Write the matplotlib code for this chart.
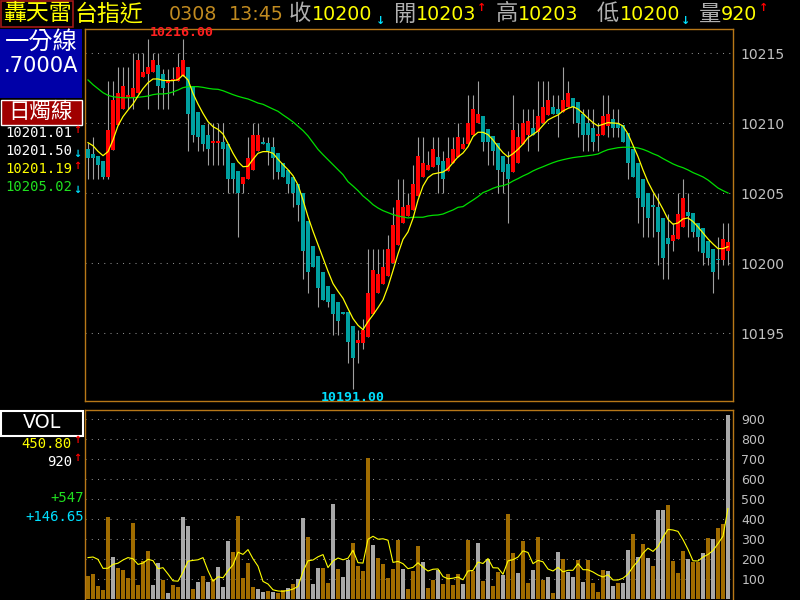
import numpy as np
import matplotlib.pyplot as plt
from matplotlib import font_manager
from matplotlib.patches import Rectangle

BASE = 10200  # the price lists below are points above this level

open_pts = [8.2, 7.8, 7.7, 7.3, 6.2, 8.1, 9.9, 11.0, 11.8, 11.9,
            12.2, 13.3, 13.5, 13.7, 14.2, 13.5, 12.9, 13.0, 13.0, 13.4,
            14.0, 12.7, 10.8, 9.9, 9.2, 8.6, 8.6, 8.7, 8.5, 7.2,
            6.6, 5.7, 6.0, 6.7, 8.0, 8.7, 8.6, 8.3, 7.9, 7.2,
            6.7, 6.2, 5.7, 5.0, 3.0, 1.2, 0.5, -0.6, -1.6, -2.2,
            -2.8, -3.5, -3.5, -4.5, -5.7, -5.7, -5.3, -3.6, -2.1, -1.5,
            -0.9, 0.0, 1.3, 2.9, 3.4, 3.8, 4.8, 6.2, 6.7, 6.9,
            7.6, 7.3, 6.6, 7.2, 7.6, 8.2, 8.5, 9.2, 10.0, 10.5,
            9.6, 9.1, 8.6, 7.7, 7.1, 6.5, 7.2, 8.5, 9.2, 9.7,
            9.4, 10.0, 10.6, 11.2, 11.0, 10.8, 11.2, 11.8, 11.5, 10.7,
            10.0, 9.7, 9.1, 9.2, 9.8, 10.3, 10.0, 9.9, 9.3, 8.2,
            7.2, 6.0, 5.0, 4.1, 4.0, 3.2, 1.8, 1.6, 1.7, 2.6,
            3.7, 3.6, 2.9, 2.5, 1.6, 1.0, 0.3, 0.2, 0.9]
high_pts = [8.6, 9.0, 7.7, 7.3, 13.0, 13.0, 14.0, 14.0, 14.0, 15.0,
            15.0, 15.0, 16.0, 15.0, 15.0, 13.9, 13.9, 14.0, 15.0, 16.0,
            14.0, 12.7, 10.8, 9.9, 10.0, 10.0, 10.0, 10.0, 8.5, 7.2,
            6.6, 6.2, 9.0, 10.0, 10.0, 9.0, 9.0, 9.0, 7.9, 7.2,
            6.7, 6.2, 5.7, 5.0, 3.0, 1.2, 0.5, -0.6, -1.6, -2.2,
            -2.8, -3.5, -3.5, -4.5, -4.8, -4.0, 1.0, 1.0, 1.0, 1.0,
            2.0, 4.0, 6.0, 6.0, 5.0, 7.0, 9.0, 9.0, 8.0, 9.0,
            9.0, 8.0, 9.0, 9.0, 10.0, 9.0, 12.0, 12.0, 13.0, 10.5,
            9.6, 9.1, 8.6, 7.7, 8.0, 12.0, 10.0, 11.0, 11.0, 11.0,
            13.0, 13.0, 13.0, 12.0, 12.0, 14.0, 13.0, 11.8, 11.5, 11.0,
            11.0, 11.0, 10.0, 12.0, 12.0, 11.0, 11.0, 9.9, 9.3, 8.2,
            7.2, 6.0, 5.0, 5.0, 5.0, 3.2, 3.5, 2.9, 5.0, 6.0,
            5.0, 3.6, 2.9, 2.5, 1.6, 1.0, 1.9, 2.9, 2.9]
low_pts = [6.0, 6.0, 6.0, 6.0, 6.0, 8.1, 9.9, 11.0, 11.0, 11.0,
           12.2, 13.3, 11.0, 13.7, 11.0, 11.0, 11.0, 12.0, 13.0, 13.4,
           8.0, 8.7, 8.0, 8.0, 7.0, 7.0, 7.0, 7.0, 5.0, 5.0,
           1.9, 5.0, 6.0, 6.7, 8.0, 8.5, 7.0, 6.0, 6.0, 6.2,
           5.0, 4.0, 3.0, -1.1, -2.1, -0.3, -3.1, -2.6, -3.1, -5.1,
           -5.1, -3.6, -7.1, -9.0, -7.1, -6.1, -5.3, -3.6, -2.1, -1.5,
           -0.9, 0.0, 1.3, 2.9, 3.4, 3.8, 4.8, 6.2, 6.7, 6.9,
           5.0, 5.0, 6.6, 7.2, 7.6, 8.2, 8.5, 9.2, 10.0, 8.0,
           7.0, 7.0, 5.0, 5.0, 2.9, 6.5, 7.2, 8.5, 8.0, 9.2,
           8.0, 10.0, 10.6, 10.7, 9.0, 10.8, 11.2, 10.0, 9.0, 8.0,
           8.0, 8.0, 8.0, 9.2, 9.0, 9.0, 9.0, 8.7, 6.0, 6.2,
           2.9, 1.9, 1.9, 1.9, -0.1, -1.1, -1.1, 0.9, 1.7, 2.6,
           1.9, 1.9, 0.9, -0.1, -0.1, -2.1, -1.1, -0.1, -0.1]
close_pts = [7.5, 7.5, 7.0, 6.2, 9.5, 11.7, 12.2, 12.7, 12.0, 12.5,
             14.5, 13.7, 14.0, 14.5, 12.7, 12.5, 13.1, 13.1, 14.0, 14.5,
             10.7, 9.2, 9.0, 8.5, 8.2, 8.7, 8.7, 8.2, 6.0, 6.0,
             5.0, 6.2, 7.5, 9.2, 9.2, 8.5, 8.0, 7.5, 6.5, 6.2,
             5.7, 5.0, 4.2, 0.9, -0.6, -0.3, -1.8, -2.6, -2.8, -3.6,
             -4.1, -3.6, -5.6, -6.8, -5.5, -4.8, -2.1, -0.5, -0.8, -0.3,
             1.0, 2.7, 4.5, 4.0, 4.2, 5.7, 7.7, 7.2, 7.0, 8.2,
             7.0, 6.0, 7.5, 8.2, 9.0, 8.5, 10.0, 11.0, 10.7, 8.7,
             8.7, 8.0, 6.7, 6.5, 6.0, 9.5, 9.0, 10.0, 10.2, 9.2,
             10.5, 11.2, 11.7, 10.7, 10.7, 11.7, 12.2, 11.2, 10.0, 9.2,
             9.2, 8.7, 9.2, 10.5, 10.7, 9.7, 9.7, 8.7, 7.2, 6.2,
             4.7, 4.0, 3.2, 4.0, 2.2, 0.4, 1.4, 2.0, 3.5, 4.7,
             3.4, 2.2, 1.9, 0.7, 0.4, -0.6, 0.2, 1.7, 1.5]
# averages as drawn on the chart (yellow = short, green = long)
ma_short_pts = [8.62, 8.40, 8.00, 7.69, 7.98, 8.81, 9.83, 10.48, 10.95, 11.38,
                11.95, 12.48, 12.90, 13.17, 13.17, 13.07, 13.05, 13.05, 13.12, 13.45,
                13.10, 12.14, 11.38, 10.71, 10.12, 9.76, 9.57, 9.24, 8.57, 7.86,
                7.26, 6.90, 6.93, 7.43, 7.86, 7.98, 7.98, 7.86, 7.43, 7.05,
                6.69, 6.26, 5.60, 4.52, 3.33, 2.29, 1.33, 0.38, -0.57, -1.45,
                -2.00, -2.50, -3.24, -3.95, -4.43, -4.74, -4.17, -3.69, -3.17, -2.62,
                -1.67, -0.52, 0.67, 1.71, 2.24, 3.21, 4.52, 5.52, 6.12, 6.38,
                6.45, 6.52, 6.76, 7.19, 7.60, 7.88, 8.33, 9.05, 9.36, 9.36,
                9.19, 8.81, 8.33, 7.90, 7.60, 7.83, 8.14, 8.52, 8.98, 9.21,
                9.45, 9.86, 10.24, 10.43, 10.60, 10.88, 11.07, 11.19, 11.02, 10.71,
                10.36, 10.05, 9.81, 9.93, 10.05, 10.02, 10.00, 9.81, 9.24, 8.43,
                7.62, 6.67, 5.81, 5.12, 4.52, 3.86, 3.14, 2.79, 2.88, 3.17,
                3.24, 2.98, 2.60, 2.17, 1.74, 1.38, 1.05, 1.05, 1.19]
ma_long_pts = [13.10, 12.76, 12.48, 12.19, 12.00, 11.90, 11.86, 11.83, 11.83, 11.83,
               11.86, 11.90, 11.95, 12.05, 12.10, 12.10, 12.14, 12.24, 12.38, 12.55,
               12.62, 12.62, 12.62, 12.57, 12.50, 12.45, 12.43, 12.33, 12.19, 12.05,
               11.93, 11.83, 11.74, 11.60, 11.45, 11.36, 11.19, 11.02, 10.86, 10.60,
               10.36, 10.10, 9.79, 9.48, 9.10, 8.62, 8.14, 7.76, 7.40, 7.05,
               6.69, 6.33, 5.83, 5.52, 5.19, 4.81, 4.52, 4.19, 3.95, 3.76,
               3.62, 3.48, 3.38, 3.31, 3.24, 3.29, 3.29, 3.29, 3.38, 3.43,
               3.45, 3.52, 3.67, 3.81, 4.00, 4.05, 4.29, 4.52, 4.76, 5.05,
               5.19, 5.36, 5.48, 5.55, 5.67, 5.88, 6.05, 6.24, 6.40, 6.60,
               6.76, 6.90, 7.05, 7.19, 7.31, 7.40, 7.48, 7.55, 7.60, 7.64,
               7.69, 7.74, 7.81, 7.98, 8.12, 8.19, 8.26, 8.29, 8.29, 8.29,
               8.24, 8.14, 8.00, 7.83, 7.69, 7.48, 7.29, 7.10, 6.95, 6.83,
               6.67, 6.48, 6.33, 6.17, 5.95, 5.67, 5.38, 5.19, 5.02]
volume = [117, 127, 67, 47, 412, 212, 157, 147, 107, 382,
          72, 190, 242, 72, 182, 97, 32, 72, 62, 412,
          367, 52, 87, 117, 87, 102, 162, 62, 292, 237,
          417, 107, 182, 62, 52, 37, 42, 37, 32, 45,
          57, 77, 102, 407, 312, 77, 157, 157, 82, 477,
          152, 112, 197, 280, 167, 142, 707, 272, 207, 177,
          107, 152, 297, 150, 52, 140, 267, 183, 57, 97,
          147, 77, 127, 72, 127, 77, 297, 142, 280, 92,
          200, 67, 137, 122, 427, 230, 132, 292, 82, 147,
          312, 97, 112, 32, 237, 200, 137, 112, 197, 87,
          197, 82, 37, 147, 142, 67, 82, 82, 247, 327,
          212, 277, 207, 167, 447, 447, 472, 192, 132, 242,
          202, 187, 187, 230, 307, 302, 357, 375, 920]
# o = orange bar, g = grey bar
vol_side = ("ooooogoooo" "oooggogoog" "gogogogggo" "ooooggogoo" "goggoggoog"
            "oggoooogoo" "ooogooogoo" "goooogoogo" "googoogoog" "oogogoggog"
            "ooooggoggo" "gogoggoooo" "googogoog")
vol_ma_head = [207, 210, 198, 153]  # first points of the volume average line

price_ticks = [10195, 10200, 10205, 10210, 10215]
vol_ticks = [100, 200, 300, 400, 500, 600, 700, 800, 900]
legend_values = ["10201.01", "10201.50", "10201.19", "10205.02"]

fonts = {f.name for f in font_manager.fontManager.ttflist}
NARROW = "Liberation Sans Narrow" if "Liberation Sans Narrow" in fonts else "DejaVu Sans"
NS = 1.0 if NARROW != "DejaVu Sans" else 0.72
CJK = "Noto Sans CJK TC"
MONO = "DejaVu Sans Mono"

YELLOW = "#ffff00"
RED = "#ff0000"
TEAL = "#00a0a0"
WICK = "#a0a0a0"
ORANGE = "#b87818"
VOL_OR = "#a06c00"
VOL_GR = "#a8a8a8"
CYAN = "#00e0ff"
GREEN = "#20e020"
GREY_TXT = "#b0b0b0"

o = BASE + np.array(open_pts)
h = BASE + np.array(high_pts)
l = BASE + np.array(low_pts)
c = BASE + np.array(close_pts)
n = len(o)
x = np.arange(n)

fig = plt.figure(figsize=(8, 6), dpi=100, facecolor="black")


def fx(px):
    return px / 800


def fy(py):
    return 1 - py / 600


def put(px, py, s, color, size, family, ha="left", va="center", **kw):
    fig.text(fx(px), fy(py), s, color=color, fontsize=size, family=family,
             ha=ha, va=va, **kw)


def box(x0, y0, x1, y1, face, edge=None, lw=0):
    fig.add_artist(Rectangle((fx(x0), fy(y1)), (x1 - x0) / 800, (y1 - y0) / 600,
                             transform=fig.transFigure, facecolor=face,
                             edgecolor=edge or face, lw=lw))


ax = fig.add_axes([fx(85), fy(401), fx(733) - fx(85), fy(29) - fy(401)])
axv = fig.add_axes([fx(85), fy(600), fx(733) - fx(85), fy(410) - fy(600)])

for a in (ax, axv):
    a.set_facecolor("black")
    a.set_xlim(-0.6, n)
    a.set_xticks([])
    a.set_axisbelow(True)
    a.yaxis.tick_right()
    a.grid(axis="y", color="#8c8c8c", linestyle=(0, (1, 5)), lw=0.75)
    for s in a.spines.values():
        s.set_color(ORANGE)
        s.set_linewidth(1)
axv.spines["bottom"].set_visible(False)

# candles
up = c > o
ax.vlines(x, l, h, color=WICK, lw=0.8, zorder=2)
ax.bar(x, np.maximum(np.abs(c - o), 0.14), width=0.8, bottom=np.minimum(o, c),
       color=np.where(up, RED, TEAL), lw=0, zorder=3)
ax.plot(x, BASE + np.array(ma_long_pts), color="#00e000", lw=0.9, zorder=4)
ax.plot(x, BASE + np.array(ma_short_pts), color=YELLOW, lw=0.9, zorder=5)
ax.set_ylim(10190.16, 10216.74)
ax.set_yticks(price_ticks)
ax.tick_params(axis="y", length=0, pad=5, labelsize=14 * NS, labelcolor="#c0c0c0")
for t in ax.get_yticklabels():
    t.set_fontfamily(NARROW)

hi = int(np.argmax(h))
lo = int(np.argmin(l))
ax.annotate(f"{h[hi]:.2f}", (hi, h[hi]), xytext=(1, 0), textcoords="offset points",
            ha="left", va="bottom", color="#ff2020", fontsize=9.5, family=MONO,
            weight="bold")
ax.annotate(f"{l[lo]:.2f}", (lo, l[lo]), xytext=(0, -1), textcoords="offset points",
            ha="center", va="top", color=CYAN, fontsize=9.5, family=MONO,
            weight="bold")

# volume
vol = np.array(volume, dtype=float)
vol_ma = np.array([vol[max(0, i - 4):i + 1].mean() for i in range(n)])
vol_ma[:4] = vol_ma_head
axv.bar(x, vol, width=0.8, color=[VOL_OR if s == "o" else VOL_GR for s in vol_side],
        lw=0, zorder=3)
axv.plot(x, vol_ma, color=YELLOW, lw=0.8, zorder=4)
axv.set_ylim(-5, 945)
axv.set_yticks(vol_ticks)
axv.tick_params(axis="y", length=0, pad=6, labelsize=12.5 * NS, labelcolor="#c0c0c0")
for t in axv.get_yticklabels():
    t.set_fontfamily(NARROW)

# header line
box(1, 1, 73, 27, "none", edge="#a01818", lw=1.2)
put(3, 14, "轟天雷", YELLOW, 16.5, CJK)
put(75, 14, "台指近", YELLOW, 16.5, CJK)
put(169, 15, "0308", "#c08a20", 19 * NS, NARROW)
put(229, 15, "13:45", "#c08a20", 19 * NS, NARROW)
put(289, 14, "收", GREY_TXT, 16, CJK)
put(312, 15, "10200", YELLOW, 19 * NS, NARROW)
put(376, 21, "↓", CYAN, 8, "DejaVu Sans", weight="bold")
put(393, 14, "開", GREY_TXT, 16, CJK)
put(416, 15, "10203", YELLOW, 19 * NS, NARROW)
put(477, 8, "↑", RED, 8, "DejaVu Sans", weight="bold")
put(496, 14, "高", GREY_TXT, 16, CJK)
put(518, 15, "10203", YELLOW, 19 * NS, NARROW)
put(597, 14, "低", GREY_TXT, 16, CJK)
put(620, 15, "10200", YELLOW, 19 * NS, NARROW)
put(681, 21, "↓", CYAN, 8, "DejaVu Sans", weight="bold")
put(699, 14, "量", GREY_TXT, 16, CJK)
put(721, 15, "920", YELLOW, 19 * NS, NARROW)
put(759, 8, "↑", RED, 8, "DejaVu Sans", weight="bold")

# left side of price panel
box(0, 29, 82, 98, "#0000a8")
put(41, 42, "一分線", "white", 17.5, CJK, ha="center")
put(41, 66, ".7000A", "white", 21 * NS, NARROW, ha="center")
box(0.5, 100, 82, 125, "#a00000", edge="white", lw=1)
put(41, 112, "日燭線", "white", 15.5, CJK, ha="center")
row_y = [133, 151, 169, 187]
row_col = ["white", "white", YELLOW, GREEN]
row_arrow = [("↑", RED), ("↓", CYAN), ("↑", RED), ("↓", CYAN)]
for y, s, col, (arr, acol) in zip(row_y, legend_values, row_col, row_arrow):
    put(72, y, s, col, 10, MONO, ha="right")
    put(73, y - 3 if arr == "↑" else y + 3, arr, acol, 7, "DejaVu Sans", weight="bold")

# left side of volume panel
box(1, 411, 83, 436, "black", edge="white", lw=1.5)
put(42, 423, "VOL", "white", 19 * NS, NARROW, ha="center")
put(72, 444, "450.80", YELLOW, 10, MONO, ha="right")
put(73, 440, "↑", RED, 7, "DejaVu Sans", weight="bold")
put(72, 462, "920", "white", 10, MONO, ha="right")
put(73, 458, "↑", RED, 7, "DejaVu Sans", weight="bold")
put(84, 498, "+547", GREEN, 10, MONO, ha="right")
put(84, 517, "+146.65", CYAN, 10, MONO, ha="right")

fig.savefig("out.png", dpi=100, facecolor="black")
